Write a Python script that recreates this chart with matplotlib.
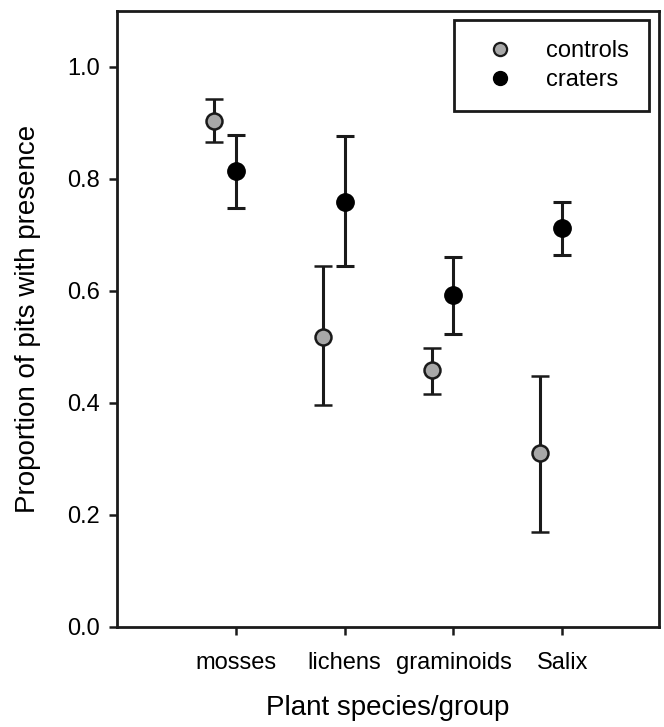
import matplotlib.pyplot as plt
from matplotlib.lines import Line2D
import numpy as np

plt.rcParams['font.family'] = ['Liberation Sans', 'DejaVu Sans']

# Data
groups = ["mosses", "lichens", "graminoids", "Salix"]
controls = [0.904, 0.518, 0.459, 0.310]
controls_hi = [0.943, 0.645, 0.499, 0.449]
controls_lo = [0.866, 0.396, 0.416, 0.170]
craters = [0.814, 0.759, 0.593, 0.712]
craters_hi = [0.879, 0.876, 0.660, 0.758]
craters_lo = [0.749, 0.645, 0.524, 0.665]

x = np.arange(1, len(groups) + 1)
offset = 0.2
gray = '#a8a8a8'
ink = '#1a1a1a'

fig = plt.figure(figsize=(6.64, 7.27), dpi=100)
ax = fig.add_axes([0.176, 0.1376, 0.8165, 0.8473])

c = np.array(controls)
k = np.array(craters)
c_err = [c - np.array(controls_lo), np.array(controls_hi) - c]
k_err = [k - np.array(craters_lo), np.array(craters_hi) - k]

ax.errorbar(x - offset, c, yerr=c_err, fmt='o', ecolor=ink,
            markerfacecolor=gray, markeredgecolor=ink, markeredgewidth=1.8,
            markersize=11.5, elinewidth=2.2, capsize=6.5, capthick=2.2, zorder=3)
ax.errorbar(x, k, yerr=k_err, fmt='o', ecolor=ink,
            markerfacecolor='black', markeredgecolor='black',
            markersize=12.5, elinewidth=2.2, capsize=6.5, capthick=2.2, zorder=3)

ax.set_xlim(-0.095, 4.89)
ax.set_ylim(0, 1.1)
ax.set_xticks(x)
ax.set_xticklabels(groups, fontsize=17)
ax.set_yticks([0.0, 0.2, 0.4, 0.6, 0.8, 1.0])
ax.set_yticklabels(["0.0", "0.2", "0.4", "0.6", "0.8", "1.0"], fontsize=17)
ax.tick_params(direction='out', length=6, width=1.8, color=ink, pad=6)
ax.tick_params(axis='x', pad=12)
for s in ax.spines.values():
    s.set_linewidth(2)
    s.set_color(ink)

ax.set_xlabel("Plant species/group", fontsize=20, labelpad=15)
ax.set_ylabel("Proportion of pits with presence", fontsize=20, labelpad=19)

handles = [
    Line2D([], [], linestyle='none', marker='o', markersize=9.5,
           markerfacecolor=gray, markeredgecolor=ink, markeredgewidth=1.6),
    Line2D([], [], linestyle='none', marker='o', markersize=10,
           markerfacecolor='black', markeredgecolor='black'),
]
leg = ax.legend(handles, ['controls', 'craters'], loc='upper right',
                bbox_to_anchor=(0.9815, 0.9854), fontsize=17,
                fancybox=False, frameon=True, edgecolor=ink, framealpha=1,
                borderpad=0.85, handlelength=2.2, handletextpad=0.85,
                labelspacing=0.3, borderaxespad=0)
leg.get_frame().set_linewidth(2)

fig.savefig("out.png", dpi=100)
